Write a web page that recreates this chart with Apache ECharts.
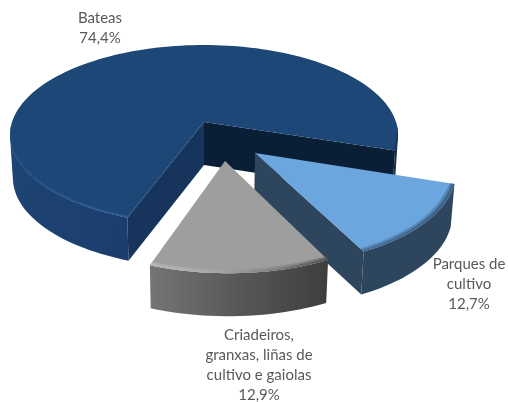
<!DOCTYPE html>
<html><head><meta charset="utf-8">
<style>html,body{margin:0;padding:0;background:#fff}#c{width:508px;height:402px}</style>
<script src="https://cdn.jsdelivr.net/npm/echarts@6/dist/echarts.min.js"></script>
</head><body><div id="c"></div>
<script>
const categories = ['Bateas', 'Parques de cultivo', 'Criadeiros, granxas, liñas de cultivo e gaiolas'];
const shares = [74.4, 12.7, 12.9];
const labelLines = [['Bateas'], ['Parques de', 'cultivo'], ['Criadeiros,', 'granxas, liñas de', 'cultivo e gaiolas']];

const labelPos = [[100, 18], [469, 264], [259, 335]];
const explode = [[0, 0], [0.253, -0.334], [0.103, -0.416]];
const radius = [1, 0.98, 0.96];
const styles = [
  {top:'#1d4777', wall:[[0,'#1e4473'],[0.5,'#19396a'],[0.66,'#16345b'],[0.99,'#142d50'],[1,'#0c2644']], x:[10,398],
   cutStart:'#17355c', cutEnd:'#0a1e35', rim:[[0,'#1f4b7d'],[0.2,'#2a5a92'],[0.32,'#2f629c'],[0.5,'#1f4c80'],[0.97,'#1b4272'],[1,'#10294a']], rimW:0.018},
  {top:'#6ca6de', wall:[[0,'#2d465e'],[1,'#2d465e']], x:[255,455],
   cutStart:'#2d465e', cutEnd:'#2d465e', rim:[[0,'#4a78a4'],[0.5,'#436c93'],[1,'#37597a']], rimW:0.028},
  {top:'#9e9e9e', wall:[[0,'#767676'],[0.5,'#585858'],[1,'#3e3e3e']], x:[147,327],
   cutStart:'#777', cutEnd:'#444', rim:[[0,'#bcbcbc'],[0.4,'#a6a6a6'],[0.7,'#7c7c7c'],[1,'#4a4a4a']], rimW:0.03}
];

const CX = 204, CY = 135, RX = 194, RY = 90, C = 0.144, DEPTH = 43, SHRINK = 0.985, START = -110.2;
const Q = Math.sqrt(1 - C * C);

function project(u, v) {
  const w = 1 + C * v;
  return [CX + RX * u * Q / w, CY - RY * (v + C) / w];
}
function lower(p) { return [CX + (p[0] - CX) * SHRINK, p[1] + DEPTH]; }
function angles(a0, a1) {
  const out = [], n = Math.max(8, Math.ceil(Math.abs(a1 - a0) / 2));
  for (let k = 0; k <= n; k++) out.push(a0 + (a1 - a0) * k / n);
  return out;
}
function point(i, a, r) {
  const t = a * Math.PI / 180;
  return project(explode[i][0] + r * Math.cos(t), explode[i][1] + r * Math.sin(t));
}
function poly(points, fill, z, opacity) {
  return {type: 'polygon', shape: {points}, style: {fill, stroke: null, opacity: opacity == null ? 1 : opacity}, silent: true, z2: z};
}
function grad(i, stops) {
  return new echarts.graphic.LinearGradient(styles[i].x[0], 0, styles[i].x[1], 0,
    stops.map(s => ({offset: s[0], color: s[1]})), true);
}

const total = shares.reduce((a, b) => a + b, 0);
const bounds = [];
let acc = START;
shares.forEach(s => { const e = acc - s / total * 360; bounds.push([acc, e]); acc = e; });

function renderItem(params) {
  const i = params.dataIndex, st = styles[i];
  const [a0, a1] = bounds[i], r = radius[i];
  const apex = project(explode[i][0], explode[i][1]);
  const as = angles(a0, a1);
  const rim = as.map(a => point(i, a, r));
  const kids = [];
  // outer wall: only the part that faces the viewer, i.e. between the projected side extremes
  const wallFill = grad(i, st.wall);
  const front = as.map(a => Math.sin(a * Math.PI / 180) < -C);
  let run = [];
  const flush = () => {
    if (run.length > 1) kids.push(poly(run.concat(run.slice().reverse().map(lower)), wallFill, 1));
    run = [];
  };
  rim.forEach((p, k) => { if (front[k]) run.push(p); else flush(); });
  flush();
  const quad = (p, col) => kids.push(poly([apex, p, lower(p), lower(apex)], col, 2));
  // a cut face is visible only when its outward normal points to the viewer
  if (Math.sin((a0 + 90) * Math.PI / 180) < 0) quad(rim[0], st.cutStart);
  if (Math.sin((a1 - 90) * Math.PI / 180) < 0) quad(rim[rim.length - 1], st.cutEnd);
  kids.push(poly([apex].concat(rim), st.top, 3));
  // soft bevel along the near edge, tapering out towards the back
  const band = (w, op, z) => {
    const inner = as.map(a => {
      const f = Math.min(1, Math.max(0, -Math.sin(a * Math.PI / 180) * 2.5));
      return point(i, a, r - w * f);
    });
    kids.push(poly(rim.concat(inner.slice().reverse()), grad(i, st.rim), z, op));
  };
  band(st.rimW, 0.45, 4);
  band(st.rimW * 0.55, 0.8, 5);
  const lines = labelLines[i].concat([String(shares[i]).replace('.', ',') + '%']);
  lines.forEach((t, k) => kids.push({
    type: 'text', silent: true, z2: 6,
    style: {text: t, x: labelPos[i][0], y: labelPos[i][1] + k * 20, align: 'center', verticalAlign: 'middle',
      fill: '#595959', font: '15px Lato, "Open Sans", sans-serif'}
  }));
  return {type: 'group', children: kids};
}

const chart = echarts.init(document.getElementById('c'), null, {renderer: 'canvas'});
chart.setOption({
  animation: false,
  backgroundColor: '#fff',
  series: [{type: 'custom', coordinateSystem: 'none', renderItem,
    data: categories.map((n, i) => ({name: n, value: shares[i]}))}]
});
</script></body></html>
